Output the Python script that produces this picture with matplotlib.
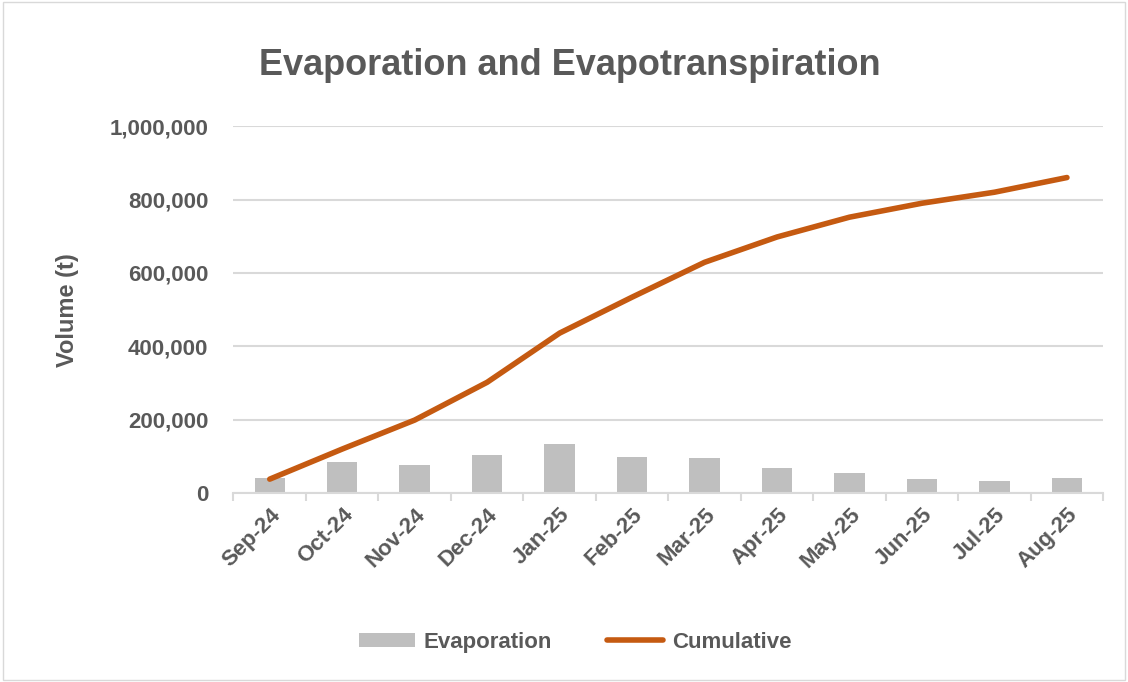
import matplotlib.pyplot as plt
from matplotlib.ticker import FuncFormatter
from matplotlib.patches import Rectangle

# data
months = ['Sep-24', 'Oct-24', 'Nov-24', 'Dec-24', 'Jan-25', 'Feb-25',
          'Mar-25', 'Apr-25', 'May-25', 'Jun-25', 'Jul-25', 'Aug-25']
evaporation = [41000, 84000, 76000, 104000, 134000, 98000,
               95000, 68000, 54000, 38000, 33000, 41000]
cumulative = [38000, 120000, 199000, 302000, 436000, 534000,
              629000, 698000, 752000, 790000, 820000, 860000]

txt = '#595959'
plt.rcParams['font.family'] = ['Liberation Sans', 'DejaVu Sans']

fig = plt.figure(figsize=(11.28, 6.82), dpi=100)
fig.patches.append(Rectangle((0.003, 0.003), 0.994, 0.994, transform=fig.transFigure,
                             fill=False, edgecolor='#D9D9D9', linewidth=1))
ax = fig.add_axes([0.207, 0.277, 0.771, 0.538])

x = list(range(len(months)))
bars = ax.bar(x, evaporation, width=0.42, color='#BFBFBF', label='Evaporation', zorder=2)
line, = ax.plot(x, cumulative, color='#C55A11', linewidth=4, label='Cumulative',
                solid_capstyle='round', zorder=3)

ax.set_xlim(-0.5, len(months) - 0.5)
ax.set_ylim(0, 1000000)
ax.set_yticks(range(0, 1000001, 200000))
ax.yaxis.set_major_formatter(FuncFormatter(lambda v, p: f'{int(v):,}'))
ax.grid(axis='y', color='#D9D9D9', linewidth=1.5, zorder=0)
for s in ['top', 'right', 'left']:
    ax.spines[s].set_visible(False)
ax.spines['bottom'].set_color('#D9D9D9')
ax.spines['bottom'].set_linewidth(1.5)

ax.set_xticks(x)
ax.set_xticklabels(months, rotation=45, ha='right', rotation_mode='anchor',
                   fontsize=16, fontweight='bold', color=txt)
ax.tick_params(axis='x', length=0, pad=8)
ax.set_xticks([i - 0.5 for i in range(len(months) + 1)], minor=True)
ax.tick_params(axis='x', which='minor', length=6, color='#D9D9D9', width=1.5)
ax.tick_params(axis='y', length=0, labelsize=16, labelcolor=txt, pad=18)
for lbl in ax.get_yticklabels():
    lbl.set_fontweight('bold')

ax.set_ylabel('Volume (t)', fontsize=17, fontweight='bold', color=txt, labelpad=22)
fig.suptitle('Evaporation and Evapotranspiration', x=0.505, y=0.93,
             fontsize=26, fontweight='bold', color=txt)

fig.legend([bars, line], ['Evaporation', 'Cumulative'],
           loc='center', bbox_to_anchor=(0.51, 0.058), ncol=2, frameon=False,
           labelcolor=txt, handlelength=2.5, handleheight=0.6, columnspacing=2.5,
           handletextpad=0.4, prop={'weight': 'bold', 'size': 16})

fig.savefig('out.png', dpi=100)
